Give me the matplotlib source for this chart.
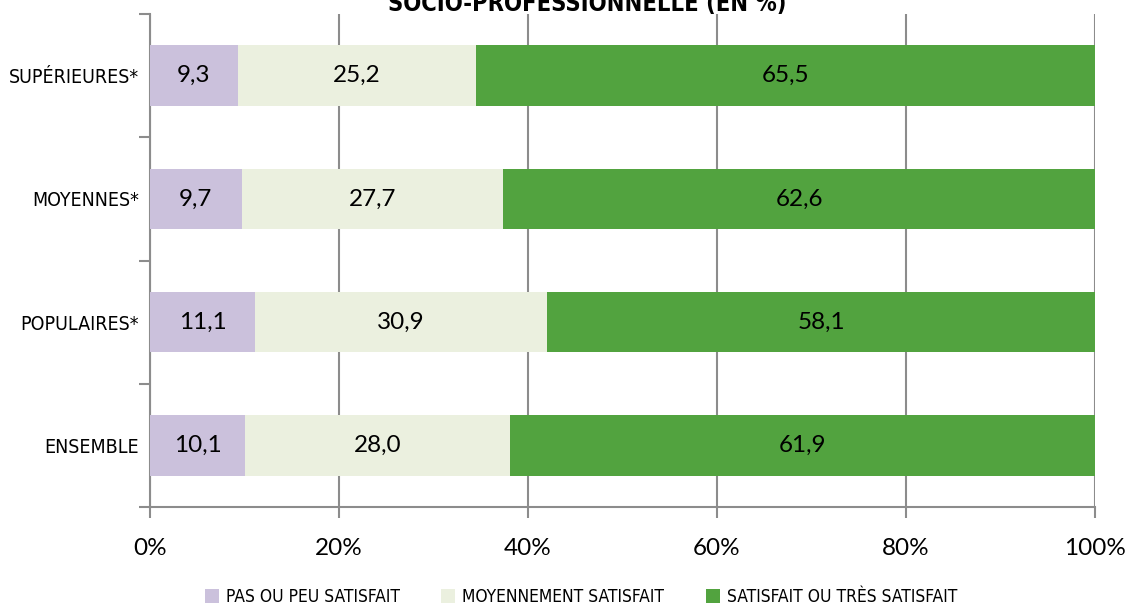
import numpy as np
import matplotlib
matplotlib.use("Agg")
from matplotlib import pyplot as plt
from matplotlib.patches import Patch

categories = ["ENSEMBLE", "POPULAIRES*", "MOYENNES*", "SUPÉRIEURES*"]
pas_satisfait = [10.1, 11.1, 9.7, 9.3]
moyennement = [28.0, 30.9, 27.7, 25.2]
satisfait = [61.9, 58.1, 62.6, 65.5]
series_names = ["PAS OU PEU SATISFAIT", "MOYENNEMENT SATISFAIT", "SATISFAIT OU TRÈS SATISFAIT"]
colors = ["#cbc1dc", "#ebf0df", "#52a33f"]
x_ticks = [0, 20, 40, 60, 80, 100]

cond_font = ["DejaVu Sans"]
num_font = ["Lato", "DejaVu Sans"]
grid_col = "#8c8c8c"

fig = plt.figure(figsize=(11.3, 6.08), dpi=100)
ax = fig.add_axes([150 / 1130, 1 - 507 / 608, 945 / 1130, 493 / 608])

y = np.arange(len(categories))
left = np.zeros(len(categories))
for vals, col in zip([pas_satisfait, moyennement, satisfait], colors):
    vals = np.array(vals)
    ax.barh(y, vals, left=left, height=0.49, color=col, zorder=3)
    for yi, (l, v) in enumerate(zip(left, vals)):
        ax.text(l + v / 2, yi, f"{v:.1f}".replace(".", ","), ha="center", va="center",
                fontsize=17.5, family=num_font, color="black", zorder=4)
    left += vals

ax.set_xlim(0, 100)
ax.set_ylim(-0.5, len(categories) - 0.5)
ax.set_xticks(x_ticks)
ax.set_xticklabels([f"{t}%" for t in x_ticks], family=num_font, fontsize=17.5)
ax.set_yticks(y)
ax.set_yticklabels(categories, family=cond_font, fontsize=14, fontstretch="condensed")
ax.set_yticks(np.arange(len(categories) + 1) - 0.5, minor=True)
ax.tick_params(axis="y", which="major", length=0, pad=8)
ax.tick_params(axis="y", which="minor", length=8, color=grid_col, width=1.5)
ax.tick_params(axis="x", length=8, color=grid_col, width=1.5, pad=14)
ax.xaxis.grid(True, color=grid_col, linewidth=1.5, zorder=0)
for s in ["top", "right"]:
    ax.spines[s].set_visible(False)
for s in ["left", "bottom"]:
    ax.spines[s].set_color(grid_col)
    ax.spines[s].set_linewidth(1.5)

handles = [Patch(facecolor=c, edgecolor="none") for c in colors]
fig.legend(handles, series_names, loc="center", bbox_to_anchor=(0.514, 1 - 597 / 608),
           ncol=3, frameon=False,
           prop={"family": cond_font, "size": 12.5, "stretch": "condensed"},
           handlelength=0.8, handleheight=0.8, handletextpad=0.4, columnspacing=2.4)

fig.text(0.52, 1 - 11 / 608, "SOCIO-PROFESSIONNELLE (EN %)", ha="center", va="baseline",
         fontsize=17, fontweight="bold", family=cond_font, fontstretch="condensed")

fig.savefig("out.png", dpi=100)
